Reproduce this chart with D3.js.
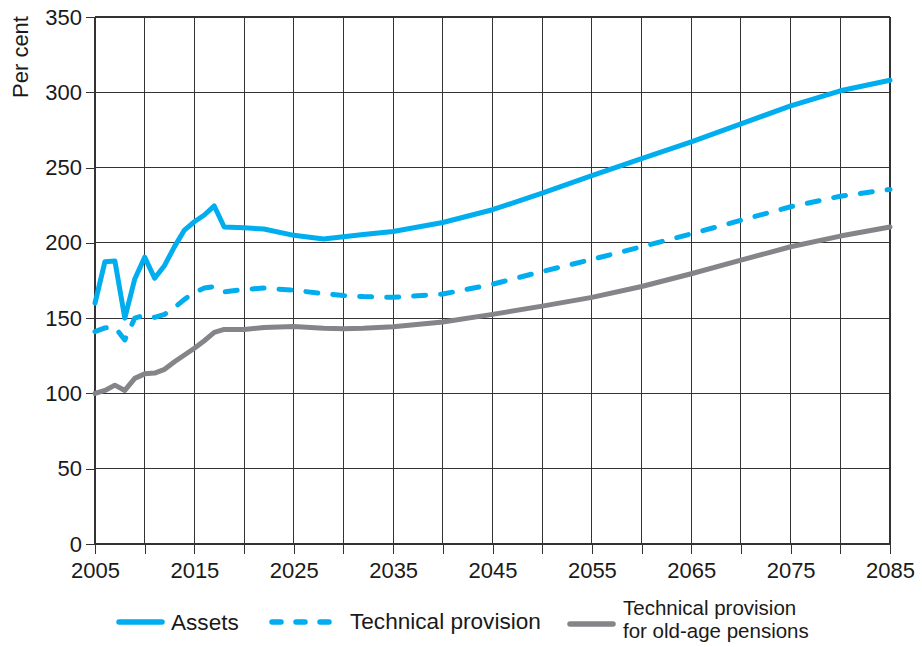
<!DOCTYPE html>
<meta charset="utf-8">
<style>
body {
  margin: 0;
  background: white;
  font-family: "Liberation Sans", Arial, sans-serif;
}
text {
  font-size: 22px;
  fill: #1a1a1a;
}
.legend text {
  font-size: 22.6px;
}
.legend text.multi {
  font-size: 20.5px;
}
.grid line {
  stroke: #333;
  stroke-width: 1.1;
  shape-rendering: crispEdges;
}
.axis path {
  display: none;
}
.axis line {
  stroke: #333;
  shape-rendering: crispEdges;
}
.series {
  fill: none;
  stroke-width: 5;
  stroke-linejoin: round;
  stroke-linecap: round;
}
</style>
<body>
<script src="https://cdn.jsdelivr.net/npm/d3@7"></script>
<script>

var width = 922,
    height = 647;

var margin = {top: 17, right: 32, bottom: 103, left: 95};

// years (annual until 2018, then sparser)
var years = [2005, 2006, 2007, 2008, 2009, 2010, 2011, 2012, 2013, 2014, 2015, 2016, 2017, 2018,
  2020, 2022, 2025, 2028, 2030, 2032, 2035, 2040, 2045, 2050, 2055, 2060, 2065, 2070, 2075, 2080, 2085];

var assets = [160, 187.5, 188, 150, 176, 190.5, 176.5, 185, 197.5, 208.5, 214, 218.5, 224.5, 210.5,
  210, 209.2, 205, 202.5, 204, 205.5, 207.5, 213.5, 222, 233, 244.6, 256, 267, 279, 291, 301, 308];

var technicalProvision = [141, 143.5, 144, 135.5, 150, 152, 150.5, 152.5, 157, 162.5, 167, 170, 171, 167.5,
  169, 170, 168.5, 166.3, 165, 164.3, 163.8, 166, 172.5, 181, 189, 197.4, 206, 215, 224, 231, 235.5];

var oldAgePensions = [100, 102, 105.5, 102, 110, 113, 113.5, 116, 121, 125.5, 130, 135, 140.5, 142.5,
  142.5, 143.8, 144.5, 143.3, 143, 143.3, 144.3, 147.5, 152.5, 158, 163.8, 171, 179.5, 188.5, 197.4, 204.5, 210.5];

var xTicks = [2005, 2015, 2025, 2035, 2045, 2055, 2065, 2075, 2085];
var yTicks = [0, 50, 100, 150, 200, 250, 300, 350];

var blue = "#00aeef",
    grey = "#858589";

var series = [
  {name: "Assets", values: assets, color: blue, dash: null},
  {name: "Technical provision", values: technicalProvision, color: blue, dash: "12,15"},
  {name: "Technical provision|for old-age pensions", values: oldAgePensions, color: grey, dash: null}
];

var w = width - margin.left - margin.right,
    h = height - margin.top - margin.bottom;

var x = d3.scaleLinear().domain([2005, 2085]).range([0, w]);
var y = d3.scaleLinear().domain([0, 350]).range([h, 0]);

var svg = d3.select("body").append("svg")
    .attr("width", width)
    .attr("height", height);

var g = svg.append("g")
    .attr("transform", "translate(" + margin.left + "," + margin.top + ")");

// grid every 5 years / 50 per cent
var grid = g.append("g").attr("class", "grid");

grid.selectAll(".v")
  .data(d3.range(2005, 2086, 5))
  .enter().append("line")
    .attr("x1", function(d) { return x(d); })
    .attr("x2", function(d) { return x(d); })
    .attr("y1", 0)
    .attr("y2", h);

grid.selectAll(".h")
  .data(yTicks)
  .enter().append("line")
    .attr("x1", 0)
    .attr("x2", w)
    .attr("y1", function(d) { return y(d); })
    .attr("y2", function(d) { return y(d); });

g.append("g")
    .attr("class", "axis")
    .attr("transform", "translate(0," + h + ")")
    .call(d3.axisBottom(x).tickValues(d3.range(2005, 2086, 5)).tickSize(10).tickPadding(8)
      .tickFormat(function(d) { return xTicks.indexOf(d) >= 0 ? d : ""; }))
    .selectAll("text")
      .attr("fill", "#1a1a1a")
      .style("font-size", "22px");

g.append("g")
    .attr("class", "axis")
    .call(d3.axisLeft(y).tickValues(yTicks).tickSize(9).tickPadding(4))
    .selectAll("text")
      .attr("fill", "#1a1a1a")
      .style("font-size", "22px");

g.selectAll(".axis text").style("font-family", "'Liberation Sans', Arial, sans-serif");

svg.append("text")
    .attr("transform", "translate(28,57)rotate(-90)")
    .attr("text-anchor", "middle")
    .text("Per cent");

var line = d3.line()
    .x(function(d, i) { return x(years[i]); })
    .y(function(d) { return y(d); });

g.selectAll(".series")
  .data(series.slice().reverse())
  .enter().append("path")
    .attr("class", "series")
    .attr("d", function(d) { return line(d.values); })
    .style("stroke", function(d) { return d.color; })
    .style("stroke-dasharray", function(d) { return d.dash; });

// legend
var legendPos = [
  {x: 119, lx: 171, ly: 630},
  {x: 272, lx: 350, ly: 629},
  {x: 570, lx: 623, ly: 615}
];

var legend = svg.selectAll(".legend")
  .data(series)
  .enter().append("g")
    .attr("class", "legend");

legend.append("line")
    .attr("x1", function(d, i) { return legendPos[i].x; })
    .attr("x2", function(d, i) { return legendPos[i].x + (i == 1 ? 66 : 43); })
    .attr("y1", function(d, i) { return i == 2 ? 624 : 622; })
    .attr("y2", function(d, i) { return i == 2 ? 624 : 622; })
    .style("stroke", function(d) { return d.color; })
    .style("stroke-width", 5.5)
    .style("stroke-linecap", "round")
    .style("stroke-dasharray", function(d) { return d.dash ? "9,15" : null; });

// two-line label is split into separate text rows
legend.each(function(d, i) {
  var parts = d.name.split("|");
  var sel = d3.select(this);
  parts.forEach(function(p, k) {
    sel.append("text")
        .attr("class", parts.length > 1 ? "multi" : null)
        .attr("x", legendPos[i].lx)
        .attr("y", legendPos[i].ly + k * 23)
        .text(p);
  });
});

</script>
